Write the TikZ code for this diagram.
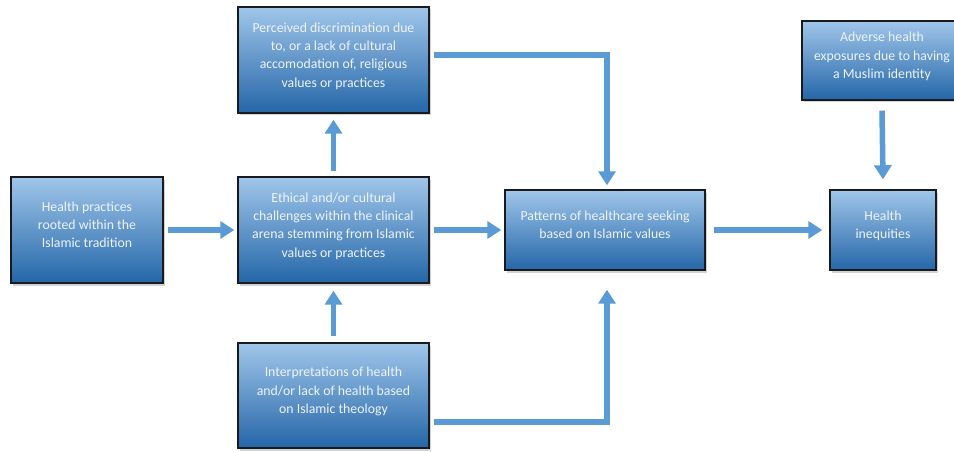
\documentclass[tikz,border=0pt]{standalone}
\usepackage{fontspec}
\setmainfont{Carlito}
\usetikzlibrary{arrows.meta,shadows,calc}
\definecolor{arrowblue}{RGB}{91,155,213}
\definecolor{boxtop}{RGB}{160,198,234}
\definecolor{boxbot}{RGB}{36,102,168}
\definecolor{boxtext}{RGB}{238,243,250}
\newcommand\liftlines[1]{\raisebox{4pt}[\height][\depth]{\begin{tabular}{@{}c@{}}#1\end{tabular}}}
\tikzset{
  box/.style={draw={rgb,255:red,25;green,25;blue,30}, line width=1.4pt,
    top color=boxtop, bottom color=boxbot, text=boxtext, align=center,
    font=\fontsize{13.8}{18.3}\selectfont, inner sep=0pt,
    drop shadow={shadow xshift=2pt, shadow yshift=-2.5pt, opacity=0.35}},
  flow/.style={draw=arrowblue, line width=5.5pt,
    -{Triangle[width=17pt,length=14pt]}}
}
\begin{document}
\begin{tikzpicture}[x=1pt,y=-1pt]
\clip (0,0) rectangle (954,452);
\fill[white] (0,0) rectangle (954,452);
\node[box, minimum width=191pt, minimum height=106pt] (B1) at (333.5,60)
  {\liftlines{Perceived discrimination due\\to, or a lack of cultural\\accomodation of, religious\\values or practices}};
\node[box, minimum width=160pt, minimum height=79pt] (B2) at (882,60.5)
  {\liftlines{Adverse health\\exposures due to having\\a Muslim identity}};
\node[box, minimum width=152pt, minimum height=106pt] (B3) at (87,230)
  {\liftlines{Health practices\\rooted within the\\Islamic tradition}};
\node[box, minimum width=191pt, minimum height=106pt] (B4) at (333.5,230)
  {\liftlines{Ethical and/or cultural\\challenges within the clinical\\arena stemming from Islamic\\values or practices}};
\node[box, minimum width=200pt, minimum height=80pt] (B5) at (605,230)
  {\liftlines{Patterns of healthcare seeking\\based on Islamic values}};
\node[box, minimum width=106pt, minimum height=80pt] (B6) at (883,230)
  {\liftlines{Health\\inequities}};
\node[box, minimum width=191pt, minimum height=105pt] (B7) at (333.5,395.5)
  {\liftlines{Interpretations of health\\and/or lack of health based\\on Islamic theology}};

\draw[flow] ($(B3.east)+(4,0)$) -- ($(B4.west)+(-3,0)$);
\draw[flow] ($(B4.east)+(4,0)$) -- ($(B5.west)+(-3,0)$);
\draw[flow] ($(B5.east)+(8,0)$) -- ($(B6.west)+(-7,0)$);
\draw[flow] ($(B4.north)+(0,-5)$) -- ($(B1.south)+(0,6)$);
\draw[flow] ($(B7.north)+(0,-6)$) -- ($(B4.south)+(0,7)$);
\draw[flow] ($(B2.south)+(0,10)$) -- ($(B6.north)+(0,-10)$);
\draw[flow] ($(B1.east)+(4,-5)$) -| ($(B5.north)+(2,-4)$);
\draw[flow] ($(B7.east)+(4,26.5)$) -| ($(B5.south)+(2,19)$);
\end{tikzpicture}
\end{document}
